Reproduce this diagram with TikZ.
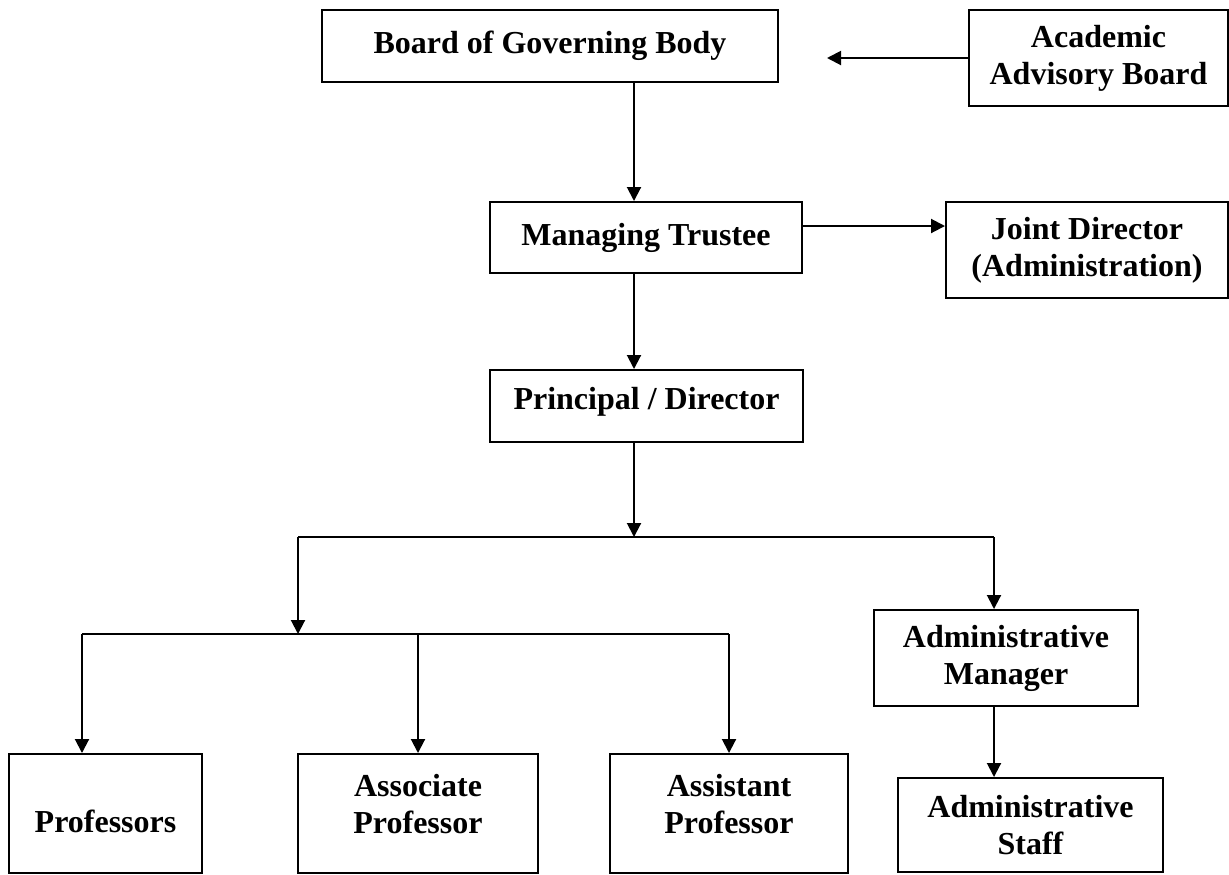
\documentclass[tikz,border=0pt]{standalone}
\usepackage{fontspec}
\setmainfont{Liberation Serif}
\usetikzlibrary{arrows.meta}

\begin{document}
\begin{tikzpicture}[x=0.5pt,y=-0.5pt,line width=1pt,
	>={Triangle[length=7pt,width=7pt]},
	unit/.style={draw, align=center, inner sep=0pt, font=\fontsize{16}{18.5}\selectfont\bfseries}]
					\useasboundingbox (0,0) rectangle (1229,874);

					\node (board) [unit, minimum width=228pt, minimum height=36pt] at (550,46) {Board of Governing Body};
					\node (acad) [unit, minimum width=129.5pt, minimum height=48pt] at (1098.5,58) {Academic\\Advisory Board};
					\node (mgr) [unit, minimum width=156pt, minimum height=35.5pt] at (646,237.5) {Managing Trustee};
					\node (joint) [unit, minimum width=141pt, minimum height=48pt] at (1087,250) {Joint Director\\(Administration)};
					\node (prin) [unit, minimum width=156.5pt, minimum height=36pt, text depth=7.5pt] at (646.5,406) {Principal / Director};
					\node (mang) [unit, minimum width=132pt, minimum height=48pt] at (1006,658) {Administrative\\Manager};
					\node (staff) [unit, minimum width=132.5pt, minimum height=47pt] at (1030.5,825) {Administrative\\Staff};
					\node (prof) [unit, minimum width=96.5pt, minimum height=59.5pt, text height=19pt] at (105.5,813.5) {Professors};
					\node (assoc) [unit, minimum width=120pt, minimum height=59.5pt, text depth=10pt] at (418,813.5) {Associate\\Professor};
					\node (asst) [unit, minimum width=119pt, minimum height=59.5pt, text depth=10pt] at (729,813.5) {Assistant\\Professor};

					\coordinate (advtip) at (827,58);
					\coordinate (mj) at (0,226);
					\coordinate (j1) at (634,537);
					\coordinate (jl) at (298,537);
					\coordinate (jr) at (994,537);
					\coordinate (j2) at (298,634);
					\coordinate (kl) at (82,634);
					\coordinate (kr) at (729,634);

					\draw (jl) -- (jr);
					\draw (kl) -- (kr);

					\path (acad.west) edge [ -> ] (advtip);
					\path (board.south -| j1) edge [ -> ] (mgr.north -| j1);
					\path (mgr.east |- mj) edge [ -> ] (joint.west |- mj);
					\path (mgr.south -| j1) edge [ -> ] (prin.north -| j1);
					\path (prin.south -| j1) edge [ -> ] (j1);
					\path (jl) edge [ -> ] (j2);
					\path (jr) edge [ -> ] (mang.north -| jr);
					\path (mang.south -| jr) edge [ -> ] (staff.north -| jr);
					\path (kl) edge [ -> ] (prof.north -| kl);
					\path (assoc.north |- kl) edge [ -> ] (assoc.north);
					\path (kr) edge [ -> ] (asst.north -| kr);
\end{tikzpicture}
\end{document}
